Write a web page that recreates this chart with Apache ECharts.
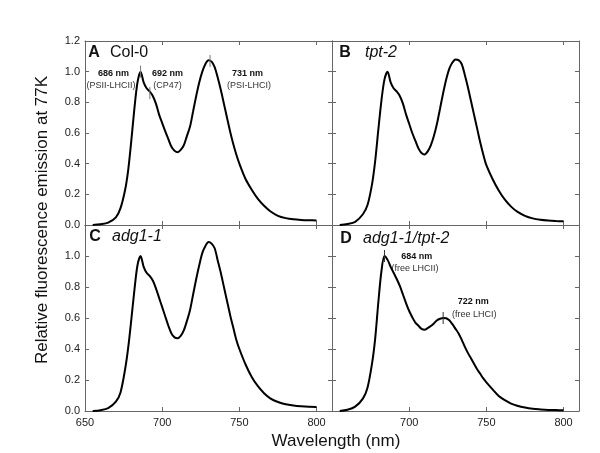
<!DOCTYPE html>
<html><head><meta charset="utf-8">
<script src="https://cdn.jsdelivr.net/npm/echarts@6/dist/echarts.min.js"></script>
<style>html,body{margin:0;padding:0;background:#fff}#c{width:600px;height:453px}</style>
</head><body><div id="c"></div>
<script>
const wavelengths = [655,660,665,670,673,676,678,680,682,684,686,688,690,692,694,696,698,700,702,704,706,708,710,712,714,716,718,720,722,724,726,728,730,732,734,736,738,740,742,744,746,748,750,754,758,762,766,770,775,780,785,790,795,800];
const col0 = [0.0,0.005,0.015,0.05,0.11,0.23,0.36,0.55,0.76,0.93,1.0,0.93,0.89,0.87,0.84,0.79,0.72,0.665,0.61,0.56,0.51,0.485,0.475,0.49,0.52,0.58,0.64,0.74,0.84,0.93,1.0,1.05,1.075,1.065,1.03,0.96,0.88,0.79,0.70,0.61,0.53,0.46,0.40,0.30,0.23,0.17,0.125,0.09,0.06,0.045,0.037,0.033,0.031,0.03];
const tpt2 = [0.0,0.006,0.02,0.07,0.13,0.27,0.42,0.62,0.81,0.95,1.0,0.93,0.89,0.87,0.84,0.79,0.72,0.66,0.6,0.55,0.5,0.47,0.46,0.48,0.52,0.58,0.66,0.76,0.86,0.95,1.02,1.06,1.08,1.075,1.05,0.98,0.9,0.81,0.72,0.63,0.54,0.46,0.39,0.30,0.225,0.165,0.12,0.087,0.06,0.043,0.034,0.029,0.026,0.024];
const adg1 = [0.0,0.005,0.018,0.06,0.12,0.27,0.41,0.59,0.78,0.94,1.0,0.93,0.89,0.87,0.84,0.79,0.73,0.67,0.61,0.55,0.5,0.475,0.47,0.485,0.52,0.58,0.65,0.75,0.85,0.94,1.02,1.065,1.09,1.08,1.05,0.97,0.89,0.8,0.71,0.62,0.54,0.46,0.40,0.30,0.22,0.16,0.115,0.082,0.058,0.043,0.035,0.03,0.027,0.026];
const adg1tpt2 = [0.0,0.008,0.028,0.08,0.15,0.31,0.47,0.70,0.9,1.0,0.975,0.93,0.89,0.85,0.805,0.75,0.695,0.645,0.605,0.57,0.55,0.53,0.524,0.535,0.548,0.565,0.585,0.595,0.6,0.598,0.585,0.56,0.53,0.5,0.46,0.415,0.375,0.34,0.305,0.27,0.24,0.21,0.185,0.14,0.097,0.07,0.048,0.034,0.022,0.014,0.01,0.007,0.006,0.005];
const peaksA = [[686,1.0],[692,0.86],[731,1.07]];
const peaksD = [[684,1.0],[722,0.6]];
const xTicks = [650,700,750,800];
const yTicks = [0.0,0.2,0.4,0.6,0.8,1.0,1.2];

const chart = echarts.init(document.getElementById('c'), null, {renderer:'canvas'});
const FONT = 'Liberation Sans, Arial, sans-serif';
const frame = '#666';
const grids = [
  {left:85, top:41, width:247, height:184},
  {left:332, top:41, width:247, height:184},
  {left:85, top:225, width:247, height:186},
  {left:332, top:225, width:247, height:186}
];
const xAxes = [], yAxes = [];
grids.forEach((g,i)=>{
  const showX = i>=2, showY = (i%2===0);
  xAxes.push({gridIndex:i, type:'value', min:650, max:810, interval:50, position:'bottom',
    axisLine:{show:true, onZero:false, lineStyle:{color:frame, width:1}},
    axisTick:{show:true, inside:true, length:4, lineStyle:{color:frame}},
    axisLabel:{show:showX, color:'#222', fontSize:11, fontFamily:FONT, margin:6,
      formatter:v=> (xTicks.includes(v) && !(i===3 && v===650))? String(v):''},
    splitLine:{show:false}});
  xAxes.push({gridIndex:i, type:'value', min:650, max:810, interval:50, position:'top',
    axisLine:{show:true, onZero:false, lineStyle:{color:frame, width:1}},
    axisTick:{show:true, inside:true, length:4, lineStyle:{color:frame}},
    axisLabel:{show:false}, splitLine:{show:false}});
  yAxes.push({gridIndex:i, type:'value', min:0, max:1.2, interval:0.2, position:'left',
    axisLine:{show:true, onZero:false, lineStyle:{color:frame, width:1}},
    axisTick:{show:true, inside:true, length:4, lineStyle:{color:frame}},
    axisLabel:{show:showY, color:'#222', fontSize:11, fontFamily:FONT, margin:5,
      formatter:v=>{ if(i>=2 && v>1.1) return ''; return yTicks.some(t=>Math.abs(t-v)<1e-6)? v.toFixed(1):''; }},
    splitLine:{show:false}});
  yAxes.push({gridIndex:i, type:'value', min:0, max:1.2, interval:0.2, position:'right',
    axisLine:{show:true, onZero:false, lineStyle:{color:frame, width:1}},
    axisTick:{show:true, inside:true, length:4, lineStyle:{color:frame}},
    axisLabel:{show:false}, splitLine:{show:false}});
});
const curves = [col0, tpt2, adg1, adg1tpt2];
const series = curves.map((vals,i)=>({
  type:'line', xAxisIndex:i*2, yAxisIndex:i*2, showSymbol:false, smooth:0.3,
  data: wavelengths.map((w,k)=>[w,vals[k]]),
  lineStyle:{color:'#000', width:2}, silent:true, animation:false
}));
function markerSeries(peaks, gi, color){
  return {type:'custom', xAxisIndex:gi*2, yAxisIndex:gi*2, data:peaks, silent:true, animation:false, z:5,
    renderItem:(params, api)=>{
      const p = api.coord([api.value(0), api.value(1)]);
      return {type:'line', shape:{x1:p[0], y1:p[1]-6, x2:p[0], y2:p[1]+6}, style:{stroke:color, lineWidth:1}};
    }};
}
series.push(markerSeries(peaksA, 0, '#777'));
series.push(markerSeries(peaksD, 3, '#333'));

function txt(x,y,text,opt){
  return Object.assign({type:'text', x:x, y:y, style:Object.assign({text:text, fill:'#111', font:'9px '+FONT, align:'center', verticalAlign:'middle'}, opt||{})});
}
const graphic = [
  txt(94,53,'A',{font:'bold 16px '+FONT}),
  txt(110,53,'Col-0',{font:'16px '+FONT, align:'left'}),
  txt(345,53,'B',{font:'bold 16px '+FONT}),
  txt(365,53,'tpt-2',{font:'italic 16px '+FONT, align:'left'}),
  txt(95,237,'C',{font:'bold 16px '+FONT}),
  txt(112,237,'adg1-1',{font:'italic 16px '+FONT, align:'left'}),
  txt(346,239,'D',{font:'bold 16px '+FONT}),
  txt(363,239,'adg1-1/tpt-2',{font:'italic 16px '+FONT, align:'left'}),
  txt(113.5,74,'686 nm',{font:'bold 9px '+FONT}),
  txt(111,86,'(PSII-LHCII)',{fill:'#333'}),
  txt(167.5,74,'692 nm',{font:'bold 9px '+FONT}),
  txt(167.5,86,'(CP47)',{fill:'#333'}),
  txt(247.5,74,'731 nm',{font:'bold 9px '+FONT}),
  txt(249,86,'(PSI-LHCI)',{fill:'#333'}),
  txt(416.7,257,'684 nm',{font:'bold 9px '+FONT}),
  txt(415,268.5,'(free LHCII)',{fill:'#333'}),
  txt(473.3,302,'722 nm',{font:'bold 9px '+FONT}),
  txt(474.3,314.5,'(free LHCI)',{fill:'#333'}),
  {type:'text', x:42, y:220, rotation:Math.PI/2, style:{text:'Relative fluorescence emission at 77K', fill:'#111', font:'17px '+FONT, align:'center', verticalAlign:'middle'}},
  txt(336,441,'Wavelength (nm)',{font:'17px '+FONT})
];
chart.setOption({animation:false, backgroundColor:'#fff', grid:grids, xAxis:xAxes, yAxis:yAxes, series:series, graphic:graphic});
</script></body></html>
